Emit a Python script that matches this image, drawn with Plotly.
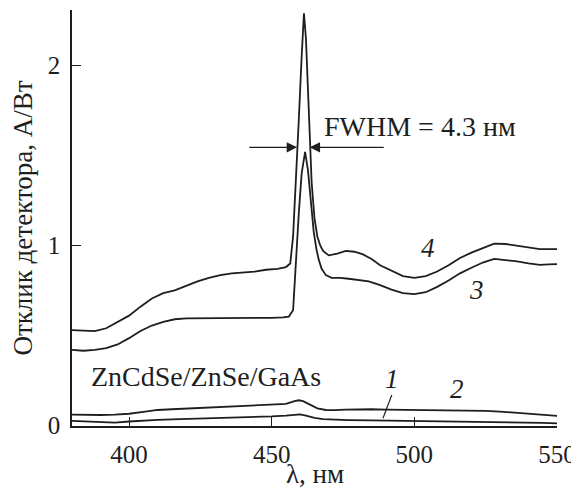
import plotly.graph_objects as go

# ---- data ----
wl4 = [380, 384, 388, 392, 396, 400, 404, 408, 412, 416, 420, 424, 428, 432, 436, 440, 444, 448,
       452, 455, 456.5, 457.5, 458.5, 459.5, 460.5, 461.3, 462, 463, 464, 465, 466, 467, 468, 470,
       473, 476, 479, 482, 485, 488, 492, 496, 500, 504, 508, 512, 516, 520, 524, 528, 532, 536,
       540, 544, 547, 550]
r4 = [0.53, 0.525, 0.524, 0.54, 0.575, 0.61, 0.66, 0.705, 0.735, 0.75, 0.775, 0.80, 0.82, 0.835,
      0.845, 0.85, 0.855, 0.865, 0.87, 0.88, 0.90, 1.05, 1.35, 1.70, 2.05, 2.29, 2.15, 1.70, 1.35,
      1.15, 1.05, 1.00, 0.97, 0.945, 0.955, 0.97, 0.965, 0.95, 0.925, 0.89, 0.86, 0.83, 0.82, 0.83,
      0.855, 0.89, 0.93, 0.96, 0.985, 1.01, 1.008, 0.998, 0.99, 0.98, 0.98, 0.98]

wl3 = [380, 384, 388, 392, 396, 400, 404, 408, 412, 416, 420, 425, 430, 435, 440, 445, 450, 454,
       456, 457.5, 458.5, 459.5, 460.5, 461.7, 462.7, 463.7, 464.7, 465.7, 466.5, 467.5, 469, 471,
       474, 477, 480, 484, 488, 492, 496, 500, 504, 508, 512, 516, 520, 524, 528, 532, 536, 540,
       544, 547, 550]
r3 = [0.42, 0.415, 0.42, 0.43, 0.45, 0.485, 0.525, 0.555, 0.575, 0.59, 0.595, 0.595, 0.595, 0.598,
      0.595, 0.597, 0.598, 0.60, 0.605, 0.64, 0.93, 1.18, 1.40, 1.52, 1.42, 1.25, 1.08, 0.977, 0.92,
      0.87, 0.835, 0.82, 0.82, 0.815, 0.81, 0.80, 0.78, 0.755, 0.735, 0.73, 0.74, 0.77, 0.805, 0.845,
      0.876, 0.905, 0.925, 0.92, 0.912, 0.90, 0.892, 0.895, 0.896]

wl2 = [380, 385, 390, 395, 400, 405, 410, 415, 420, 425, 430, 435, 440, 445, 450, 455, 458, 459.5,
       461, 463, 466, 469, 472, 476, 480, 485, 490, 495, 500, 505, 510, 515, 520, 525, 530, 535,
       540, 545, 550]
r2 = [0.06, 0.058, 0.058, 0.06, 0.065, 0.075, 0.086, 0.09, 0.094, 0.096, 0.10, 0.104, 0.108, 0.11,
      0.115, 0.12, 0.135, 0.14, 0.135, 0.118, 0.095, 0.086, 0.085, 0.088, 0.09, 0.09, 0.088, 0.087,
      0.086, 0.086, 0.085, 0.085, 0.084, 0.081, 0.077, 0.07, 0.064, 0.058, 0.053]

wl1 = [380, 385, 390, 395, 400, 405, 410, 415, 420, 425, 430, 435, 440, 445, 450, 455, 458, 460,
       462, 465, 468, 472, 477, 485, 495, 505, 515, 525, 535, 545, 550]
r1 = [0.025, 0.022, 0.017, 0.016, 0.022, 0.028, 0.031, 0.034, 0.036, 0.038, 0.04, 0.043, 0.045,
      0.048, 0.05, 0.055, 0.06, 0.062, 0.055, 0.042, 0.035, 0.032, 0.03, 0.028, 0.026, 0.025, 0.024,
      0.022, 0.018, 0.014, 0.012]

x_ticks = [400, 450, 500, 550]
y_ticks = [0, 1, 2]
x_title = "λ, нм"
y_title = "Отклик детектора, А/Вт"
curve_labels = ["1", "2", "3", "4"]
label_x = [492, 515, 521.8, 504.9]
label_y = [0.26, 0.20, 0.753, 0.985]
sample_text = "ZnCdSe/ZnSe/GaAs"
fwhm_text = "FWHM = 4.3 нм"
fwhm_level = 1.545
fwhm_left = 458.9
fwhm_right = 463.3

LINE = "#1e1e1e"
FONT = "Liberation Serif"

fig = go.Figure()
for wl, r in [(wl1, r1), (wl2, r2), (wl3, r3), (wl4, r4)]:
    fig.add_trace(go.Scatter(x=wl, y=r, mode="lines",
                             line=dict(color=LINE, width=1.8), showlegend=False,
                             hoverinfo="skip"))

for t, xx, yy in zip(curve_labels, label_x, label_y):
    fig.add_annotation(x=xx, y=yy, text=f"<i>{t}</i>", showarrow=False,
                       font=dict(family=FONT, size=27, color=LINE))

# leader line for label 1
fig.add_shape(type="line", x0=492.1, y0=0.17, x1=489, y1=0.04,
              line=dict(color=LINE, width=1.2))

fig.add_annotation(x=386, y=0.27, text=sample_text, showarrow=False, xanchor="left",
                   font=dict(family=FONT, size=28, color=LINE))

fig.add_annotation(x=467.5, y=1.66, text=fwhm_text, showarrow=False, xanchor="left",
                   font=dict(family=FONT, size=28, color=LINE))

# FWHM arrows
fig.add_annotation(x=fwhm_left, y=fwhm_level, ax=441.6, ay=fwhm_level, axref="x", ayref="y",
                   xref="x", yref="y", text="", showarrow=True, arrowhead=2, arrowsize=1.6,
                   arrowwidth=1.3, arrowcolor=LINE)
fig.add_annotation(x=fwhm_right, y=fwhm_level, ax=489.8, ay=fwhm_level, axref="x", ayref="y",
                   xref="x", yref="y", text="", showarrow=True, arrowhead=2, arrowsize=1.6,
                   arrowwidth=1.3, arrowcolor=LINE)

# x-axis title placed just below the tick labels
fig.add_annotation(x=0.5, y=-0.115, xref="paper", yref="paper", text=x_title,
                   showarrow=False, yanchor="middle",
                   font=dict(family=FONT, size=27, color=LINE))

# the page body adds an 8 px margin, so the figure is 8 px smaller than the window
fig.update_layout(
    width=571, height=484,
    margin=dict(l=64, r=22, t=2, b=66),
    paper_bgcolor="white", plot_bgcolor="white",
    font=dict(family=FONT, size=25, color=LINE),
    xaxis=dict(range=[380, 550], tickvals=x_ticks, ticks="inside", ticklen=9,
               tickcolor=LINE, tickwidth=1.2, showline=True, linecolor=LINE, linewidth=1.6,
               showgrid=False, zeroline=False, mirror=False, ticklabelstandoff=5,
               tickfont=dict(size=25)),
    yaxis=dict(range=[-0.003, 2.308], tickvals=y_ticks, ticks="inside", ticklen=9,
               tickcolor=LINE, tickwidth=1.2, showline=True, linecolor=LINE, linewidth=1.6,
               showgrid=False, zeroline=False, mirror=False, ticklabelstandoff=5,
               title=dict(text=y_title, standoff=8, font=dict(size=27)),
               tickfont=dict(size=25)),
)

fig.write_html("out.html")
